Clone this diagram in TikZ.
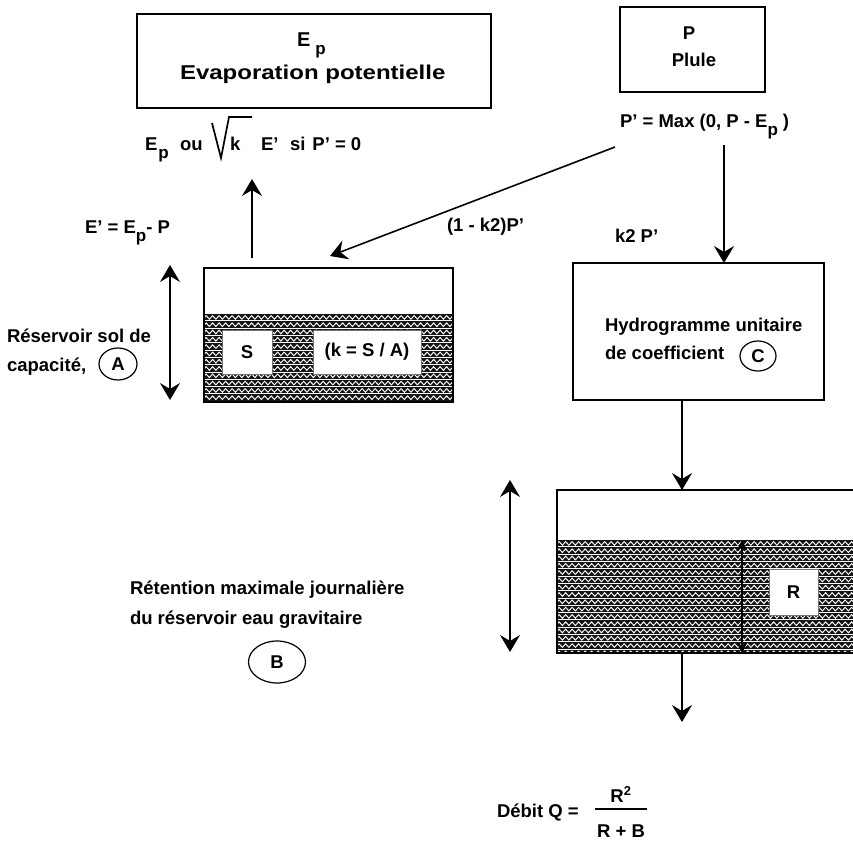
\documentclass[tikz,border=0pt]{standalone}
\usepackage{fontspec}
\setmainfont{Liberation Sans}
\usetikzlibrary{arrows.meta,shapes.geometric,decorations.pathmorphing}

% lowered subscript letter as printed in the formulas
\newcommand\lowp{\raisebox{-8pt}{\fontsize{17}{17}\selectfont p}}

% dark water-filled layer with rows of white zigzags
\newcommand\waterlayer[4]{%
  \fill[black!92] (#1,#2) rectangle (#3,#4);
  \begin{scope}
    \clip (#1,#2) rectangle (#3,#4);
    \foreach \k in {0,...,16} {
      \draw[wave] (#1-6,#2+3.4+7.3*\k) -- (#3+6,#2+3.4+7.3*\k);
      \draw[white, line width=0.4pt] (#1,#2+6.6+7.3*\k) -- (#3,#2+6.6+7.3*\k);
    }
  \end{scope}}

\begin{document}
\begin{tikzpicture}[x=1pt,y=-1pt,
  font=\bfseries\fontsize{18.5}{20}\selectfont,
  lbl/.style={inner sep=0pt, outer sep=0pt},
  boxed/.style={draw, line width=1.4pt, inner sep=0pt},
  tipbig/.tip={Stealth[length=17pt,width=20pt,inset=6pt]},
  flow/.style={line width=1.6pt, -tipbig},
  span/.style={line width=1.6pt, tipbig-tipbig},
  tag/.style={draw, ellipse, line width=1.2pt, inner sep=0pt},
  cell/.style={fill=white, draw=black!55, line width=0.8pt, inner sep=0pt},
  wave/.style={white, line width=0.95pt, decorate,
               decoration={zigzag, segment length=6.5pt, amplitude=1.8pt}}]

\useasboundingbox (0,0) rectangle (853,840);

% ---------- potential evaporation ----------
\node[boxed, minimum width=354pt, minimum height=94pt] (ep) at (314,61) {};
\node[lbl, anchor=base west] (eptitle) at (297,47)
  {\fontsize{20}{22}\selectfont E\hspace{5pt}\lowp};
\node[lbl, anchor=base west] (evap) at (180,80)
  {\fontsize{20}{22}\selectfont\scalebox{1.2}[1]{Evaporation potentielle}};

% actual evaporation formula
\node[lbl, anchor=base west] (ef1) at (145,150) {E\hspace{1pt}\lowp};
\node[lbl, anchor=base west] (ef2) at (180,150) {ou};
\draw[line width=1.7pt, line join=miter] (212,123) -- (221,158) -- (229,117) -- (252,117);
\node[lbl, anchor=base west] (ef3) at (230,150) {k};
\node[lbl, anchor=base west] (ef4) at (261,150) {E'};
\node[lbl, anchor=base west] (ef5) at (290,150) {si\hspace{7pt}P' = 0};

% ---------- rain ----------
\node[boxed, minimum width=145pt, minimum height=85pt] (pbox) at (692.5,49.5) {};
\node[lbl, anchor=base] (ptitle) at (689,40) {P};
\node[lbl, anchor=base] (pname) at (694,67) {Plule};
\node[lbl, anchor=base west] (pprime) at (620,128) {P' = Max (0, P - E\lowp\hspace{5pt})};

\node[lbl, anchor=base west] (eprime) at (85,233) {E' = E\lowp- P};
\node[lbl, anchor=base west] (share1) at (447,231) {(1 - k2)P'};
\node[lbl, anchor=base west] (share2) at (615,242) {k2 P'};

% ---------- soil reservoir ----------
\waterlayer{204}{314}{453}{402}
\node[boxed, minimum width=249pt, minimum height=134pt] (soil) at (328.5,335) {};
\node[cell, minimum width=50pt, minimum height=44pt] (sval) at (247,352) {S};
\node[cell, minimum width=108pt, minimum height=44pt] (kval) at (367,352) {(k = S / A)};

\node[lbl, anchor=base west] (soiltxt) at (7,342) {Réservoir sol de};
\node[lbl, anchor=base west] (soiltxt2) at (7,371) {capacité,};
\node[tag, minimum width=38pt, minimum height=32pt] (tagA) at (118,364) {A};

\coordinate (soilTop) at (170,265);
\coordinate (soilBot) at (170,400);
\draw[span] (soilTop) -- (soilBot);

% ---------- unit hydrograph ----------
\node[boxed, minimum width=251pt, minimum height=137pt] (hydro) at (698.5,331.5) {};
\node[lbl, anchor=base west] (hyd1) at (605,331) {Hydrogramme unitaire};
\node[lbl, anchor=base west] (hyd2) at (605,359) {de coefficient};
\node[tag, minimum width=36pt, minimum height=30pt] (tagC) at (758,356) {C};

% ---------- gravity reservoir ----------
\waterlayer{557}{540}{870}{653}
\node[boxed, minimum width=313pt, minimum height=163pt] (grav) at (713.5,571.5) {};
\node[cell, minimum width=49pt, minimum height=46pt] (rval) at (793.5,592) {R};

\coordinate (rTop) at (742,540);
\coordinate (rBot) at (742,653);
\draw[line width=1.4pt, {Stealth[length=11pt,width=11pt,inset=4pt]}-{Stealth[length=11pt,width=11pt,inset=4pt]}] (rTop) -- (rBot);

\coordinate (gTop) at (510,480);
\coordinate (gBot) at (510,652);
\draw[span] (gTop) -- (gBot);

\node[lbl, anchor=base west] (ret1) at (130,594) {Rétention maximale journalière};
\node[lbl, anchor=base west] (ret2) at (130,624) {du réservoir eau gravitaire};
\node[tag, minimum width=57pt, minimum height=42pt] (tagB) at (277,662) {B};

% ---------- discharge ----------
\node[lbl, anchor=base west] (debit) at (497,817) {Débit Q =};
\node[lbl, anchor=base] (num) at (621,802) {R\textsuperscript{2}};
\node[lbl, anchor=base] (den) at (621,837) {R + B};
\draw[line width=1.2pt] (595,809) -- (647,809);

% ---------- flows ----------
\coordinate (evFrom) at (252,258);
\coordinate (evTo) at (252,179);
\draw[flow] (evFrom) -- (evTo);

\coordinate (split) at (615,147);
\coordinate (soilIn) at (330,256);
\draw[flow] (split) -- (soilIn);

\coordinate (rainFrom) at (724,145);
\coordinate (rainTo) at (724,263);
\draw[flow] (rainFrom) -- (rainTo);

\coordinate (hydOut) at (682,400);
\coordinate (gravIn) at (682,490);
\draw[flow] (hydOut) -- (gravIn);

\coordinate (gravOut) at (682,653);
\coordinate (qOut) at (682,722);
\draw[flow] (gravOut) -- (qOut);

\end{tikzpicture}
\end{document}
